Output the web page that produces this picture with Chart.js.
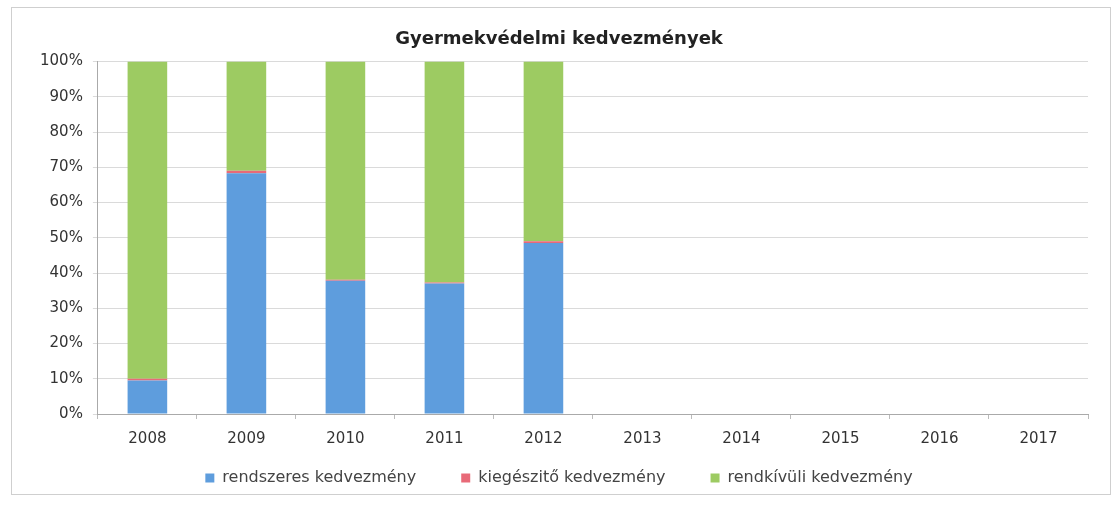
<!DOCTYPE html>
<html>
<head>
<meta charset="utf-8">
<script src="https://cdn.jsdelivr.net/npm/chart.js@4"></script>
<style>
  html, body { margin: 0; padding: 0; background: #fff; }
  #wrap { position: absolute; left: 11px; top: 7px; width: 1098px; height: 486px; border: 1px solid #cfcfcf; }
</style>
</head>
<body>
<div id="wrap"><canvas id="chart"></canvas></div>
<script>
const years = ['2008', '2009', '2010', '2011', '2012', '2013', '2014', '2015', '2016', '2017']
const rendszeres = [9.5, 68.3, 37.8, 37.0, 48.5, null, null, null, null, null]
const kiegeszito = [0.5, 0.7, 0.3, 0.3, 0.5, null, null, null, null, null]
const rendkivuli = [90.0, 31.0, 61.9, 62.7, 51.0, null, null, null, null, null]

const ctx = document.getElementById('chart').getContext('2d');
Chart.defaults.font.family = '"DejaVu Sans", Verdana, sans-serif';
Chart.defaults.color = '#333';

// keep the wide legend spacing but give the legend a short box, drawn a bit higher
const legendTweak = {
    id: 'legendTweak',
    afterInit(chart) {
        const leg = chart.legend;
        const fit = leg.fit;
        leg.fit = function () { fit.call(this); this.height = 31; };
        const draw = leg.draw;
        leg.draw = function (area) {
            const t = this.top;
            this.top = t - 34;
            draw.call(this, area);
            this.top = t;
        };
    }
};

const dataChart = new Chart(ctx, {
    type: 'bar',
    data: {
        labels: years,
        datasets: [
            {
                label: 'rendszeres kedvezmény',
                data: rendszeres,
                backgroundColor: '#5e9ddd',
            },
            {
                label: 'kiegészitő kedvezmény',
                data: kiegeszito,
                backgroundColor: '#e86a78',
            },
            {
                label: 'rendkívüli kedvezmény',
                data: rendkivuli,
                backgroundColor: '#9dcb62',
            }
        ]
    },
    plugins: [legendTweak],
    options: {
        responsive: true,
        maintainAspectRatio: false,
        animation: false,
        categoryPercentage: 0.4,
        barPercentage: 1.0,
        layout: { padding: { left: 18, right: 22, top: 4, bottom: 4 } },
        scales: {
            x: {
                stacked: true,
                grid: { display: true, color: 'rgba(0,0,0,0)', tickColor: '#bbb', tickLength: 5, offset: true },
                border: { color: '#aaa' },
                ticks: { font: { size: 15 }, padding: 11, color: '#333' }
            },
            y: {
                stacked: true,
                min: 0,
                max: 100,
                ticks: {
                    stepSize: 10,
                    font: { size: 15 },
                    padding: 10,
                    color: '#333',
                    callback: v => v + '%'
                },
                grid: { color: '#dadada', tickLength: 5 },
                border: { color: '#aaa' }
            }
        },
        plugins: {
            title: {
                display: true,
                text: 'Gyermekvédelmi kedvezmények',
                font: { size: 18, weight: 'bold' },
                color: '#222',
                padding: { top: 17, bottom: 11 }
            },
            legend: {
                position: 'bottom',
                labels: { boxWidth: 9, boxHeight: 9, font: { size: 16 }, padding: 45, color: '#444' }
            },
            tooltip: { enabled: false }
        }
    }
});
</script>
</body>
</html>
